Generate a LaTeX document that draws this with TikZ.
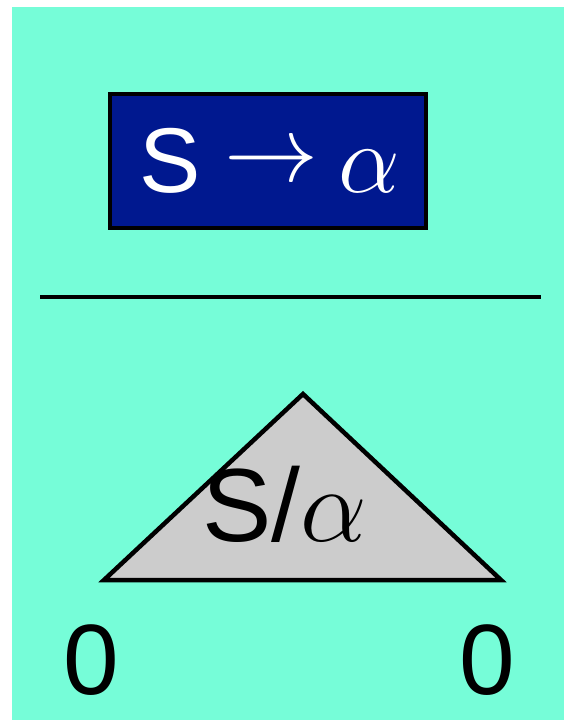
\documentclass[tikz,border=0pt]{standalone}
\usepackage{fix-cm}
\usepackage{fontspec}
\setmainfont{Liberation Sans}
\usepackage{tikz}
\usetikzlibrary{positioning}
\definecolor{slaqua}{RGB}{118,253,216}
\definecolor{slnavy}{RGB}{0,24,143}
\definecolor{slgrey}{RGB}{204,204,204}
\newcommand{\slalpha}[1]{{\fontsize{#1}{#1}\selectfont$\alpha$}}
\newcommand{\slarrow}{\raisebox{11pt}{\fontsize{94}{94}\selectfont$\rightarrow$}}

\begin{document}
\begin{tikzpicture}[
  x=1pt,y=-1pt,
  rulebox/.style={draw,line width=4.5pt,fill=slnavy,minimum width=316pt,minimum height=134pt,inner sep=0pt},
  bigtext/.style={anchor=base,inner sep=0pt,font=\fontsize{#1}{#1}\selectfont},
  bar/.style={line width=4pt},
  tree/.style={draw,line width=4.5pt,line join=miter,fill=slgrey}
]
  \useasboundingbox (0,0) rectangle (564,720);
  \fill[slaqua] (12,7) rectangle (564,720);

  % the rule
  \node[rulebox] (rule) at (268,161) {};
  \node[bigtext=92,text=white,anchor=base west] (ruletext) at (139,192)
    {S\hspace{24pt}\slarrow\hspace{20pt}\slalpha{98}};

  % inference bar
  \coordinate (barl) at (40,297);
  \coordinate (barr) at (541,297);
  \draw[bar] (barl) -- (barr);

  % derivation tree
  \coordinate (apex) at (303,394);
  \coordinate (treel) at (104,580);
  \coordinate (treer) at (501,580);
  \draw[tree] (apex) -- (treer) -- (treel) -- cycle;
  \node[bigtext=104,anchor=base west] (treetext) at (202,541) {S/\slalpha{106}};

  % span ends
  \node[bigtext=100] (zl) at (91,694) {0};
  \node[bigtext=100] (zr) at (487,694) {0};
\end{tikzpicture}
\end{document}
